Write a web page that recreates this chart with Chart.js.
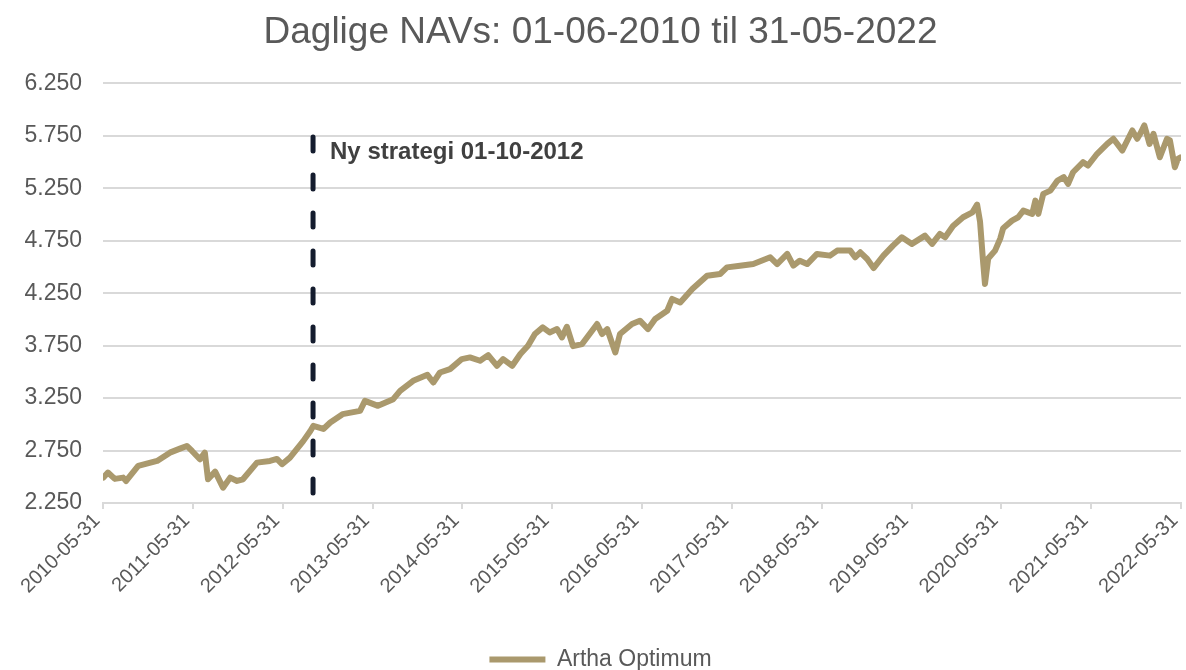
<!DOCTYPE html>
<html>
<head>
<meta charset="utf-8">
<script src="https://cdn.jsdelivr.net/npm/chart.js@4"></script>
<style>
  html, body { margin: 0; padding: 0; background: #fff; }
  #wrap { width: 1186px; height: 670px; }
</style>
</head>
<body>
<div id="wrap"><canvas id="navChart"></canvas></div>
<script>
// NAV
const dates = [
  '2010-06-01', '2010-06-20', '2010-07-18', '2010-08-21', '2010-09-02', '2010-10-21',
  '2011-01-06', '2011-02-27', '2011-04-09', '2011-05-07', '2011-05-28', '2011-06-29',
  '2011-07-19', '2011-08-01', '2011-08-30', '2011-10-01', '2011-10-30', '2011-11-27',
  '2011-12-21', '2012-02-16', '2012-04-09', '2012-05-07', '2012-05-28', '2012-06-29',
  '2012-08-22', '2012-09-20', '2012-10-02', '2012-11-12', '2012-12-10', '2013-01-29',
  '2013-04-10', '2013-04-30', '2013-06-22', '2013-08-23', '2013-09-20', '2013-11-12',
  '2014-01-09', '2014-02-02', '2014-03-01', '2014-04-11', '2014-05-29', '2014-07-01',
  '2014-08-11', '2014-09-13', '2014-10-19', '2014-11-13', '2014-12-20', '2015-01-22',
  '2015-02-22', '2015-03-22', '2015-04-23', '2015-05-21', '2015-06-20', '2015-07-10',
  '2015-07-30', '2015-08-24', '2015-09-30', '2015-11-30', '2015-12-20', '2016-01-10',
  '2016-01-31', '2016-02-12', '2016-03-02', '2016-04-20', '2016-05-22', '2016-06-24',
  '2016-07-23', '2016-09-10', '2016-09-30', '2016-11-02', '2016-12-21', '2017-02-19',
  '2017-04-13', '2017-05-11', '2017-07-03', '2017-08-26', '2017-11-03', '2017-12-01',
  '2018-01-11', '2018-02-05', '2018-03-03', '2018-04-02', '2018-05-12', '2018-07-04',
  '2018-08-02', '2018-09-24', '2018-10-14', '2018-11-04', '2018-12-02', '2018-12-28',
  '2019-02-06', '2019-03-17', '2019-04-22', '2019-06-02', '2019-07-25', '2019-08-23',
  '2019-09-24', '2019-10-15', '2019-11-16', '2019-12-27', '2020-02-03', '2020-02-22',
  '2020-03-05', '2020-03-17', '2020-03-25', '2020-04-07', '2020-05-05', '2020-05-26',
  '2020-06-07', '2020-07-13', '2020-08-07', '2020-08-28', '2020-10-03', '2020-10-16',
  '2020-10-28', '2020-11-17', '2020-12-16', '2021-01-14', '2021-02-08', '2021-02-26',
  '2021-03-18', '2021-04-28', '2021-05-18', '2021-06-24', '2021-08-04', '2021-08-29',
  '2021-10-04', '2021-11-14', '2021-12-04', '2021-12-16', '2022-01-02', '2022-01-23',
  '2022-02-08', '2022-03-06', '2022-04-04', '2022-04-16', '2022-05-06', '2022-05-18',
  '2022-05-31'
];
const navs = [
  2492, 2540, 2480, 2492, 2460, 2603,
  2651, 2730, 2768, 2794, 2746, 2667,
  2730, 2476, 2549, 2396, 2492, 2460,
  2476, 2635, 2651, 2670, 2620, 2683,
  2840, 2937, 2985, 2956, 3017, 3097,
  3128, 3224, 3176, 3240, 3319, 3415,
  3472, 3399, 3494, 3526, 3622, 3638,
  3606, 3660, 3558, 3622, 3558, 3670,
  3749, 3861, 3924, 3876, 3908, 3829,
  3930, 3745, 3765, 3956, 3861, 3908,
  3765, 3685, 3861, 3956, 3988, 3908,
  4004, 4083, 4195, 4162, 4290, 4417,
  4433, 4496, 4512, 4528, 4592, 4528,
  4624, 4512, 4560, 4528, 4624, 4608,
  4656, 4656, 4592, 4640, 4576, 4490,
  4608, 4704, 4783, 4720, 4799, 4720,
  4815, 4783, 4890, 4974, 5021, 5095,
  4930, 4560, 4338, 4580, 4656, 4770,
  4870, 4942, 4974, 5037, 5006, 5133,
  5006, 5197, 5228, 5324, 5356, 5292,
  5403, 5499, 5467, 5579, 5674, 5722,
  5610, 5801, 5722, 5770, 5849, 5674,
  5770, 5546, 5722, 5706, 5451, 5530,
  5546
];
const yTicks = [2250, 2750, 3250, 3750, 4250, 4750, 5250, 5750, 6250];
const xTickLabels = ['2010-05-31', '2011-05-31', '2012-05-31', '2013-05-31', '2014-05-31',
  '2015-05-31', '2016-05-31', '2017-05-31', '2018-05-31', '2019-05-31', '2020-05-31',
  '2021-05-31', '2022-05-31'];
const strategyDate = '2012-10-01';
const strategyLabel = 'Ny strategi 01-10-2012';

const FONT = '"Liberation Sans", Arial, sans-serif';
const startMs = Date.parse('2010-05-31');
function toYears(d) {
  return (Date.parse(d) - startMs) / (365.25 * 864e5);
}
function fmt(v) {
  return String(v).replace(/\B(?=(\d{3})+(?!\d))/g, '.');
}

const points = dates.map((d, i) => ({ x: toYears(d), y: navs[i] }));

const strategyLine = {
  id: 'strategyLine',
  afterDatasetsDraw(chart) {
    const { ctx, scales } = chart;
    const x = scales.x.getPixelForValue(toYears(strategyDate));
    ctx.save();
    ctx.beginPath();
    ctx.setLineDash([14, 24]);
    ctx.lineCap = 'round';
    ctx.lineWidth = 5;
    ctx.strokeStyle = '#141c2e';
    ctx.moveTo(x, scales.y.getPixelForValue(5740));
    ctx.lineTo(x, scales.y.getPixelForValue(2345));
    ctx.stroke();
    ctx.setLineDash([]);
    ctx.fillStyle = '#404040';
    ctx.font = 'bold 24px ' + FONT;
    ctx.textBaseline = 'middle';
    ctx.fillText(strategyLabel, x + 17, scales.y.getPixelForValue(5590));
    ctx.restore();
  }
};

new Chart(document.getElementById('navChart'), {
  type: 'line',
  data: {
    datasets: [{
      label: 'Artha Optimum',
      data: points,
      borderColor: '#aa996d',
      backgroundColor: '#aa996d',
      borderWidth: 6,
      borderCapStyle: 'round',
      borderJoinStyle: 'round',
      pointRadius: 0,
      tension: 0
    }]
  },
  options: {
    responsive: true,
    maintainAspectRatio: false,
    animation: false,
    layout: { padding: { left: 20, right: 5, top: 0, bottom: -11 } },
    plugins: {
      title: {
        display: true,
        text: 'Daglige NAVs: 01-06-2010 til 31-05-2022',
        color: '#595959',
        font: { family: FONT, size: 37, weight: 'normal' },
        padding: { top: 11, bottom: 28 }
      },
      legend: {
        position: 'bottom',
        labels: {
          color: '#595959',
          font: { family: FONT, size: 23 },
          usePointStyle: true,
          pointStyle: 'line',
          pointStyleWidth: 56,
          padding: 0
        }
      },
      tooltip: { enabled: false }
    },
    scales: {
      x: {
        type: 'linear',
        min: 0,
        max: 12,
        afterBuildTicks(scale) {
          scale.ticks = xTickLabels.map((_, i) => ({ value: i }));
        },
        afterFit(scale) {
          scale.height = 145;
          scale.paddingRight = 0;
          scale.paddingLeft = 0;
        },
        grid: { drawOnChartArea: false, drawTicks: true, tickLength: 6, color: '#d9d9d9', lineWidth: 2 },
        border: { color: '#d9d9d9', width: 2 },
        ticks: {
          autoSkip: false,
          minRotation: 45,
          maxRotation: 45,
          padding: 0,
          labelOffset: -6,
          color: '#595959',
          font: { family: FONT, size: 20 },
          callback: (v) => xTickLabels[v]
        }
      },
      y: {
        min: 2250,
        max: 6250,
        afterBuildTicks(scale) {
          scale.ticks = yTicks.map(v => ({ value: v }));
        },
        afterFit(scale) { scale.width = 83; },
        grid: { drawTicks: false, color: '#d9d9d9', lineWidth: 2 },
        border: { display: false },
        ticks: {
          padding: 21,
          color: '#595959',
          font: { family: FONT, size: 23 },
          callback: (v) => fmt(v)
        }
      }
    }
  },
  plugins: [strategyLine]
});
</script>
</body>
</html>
